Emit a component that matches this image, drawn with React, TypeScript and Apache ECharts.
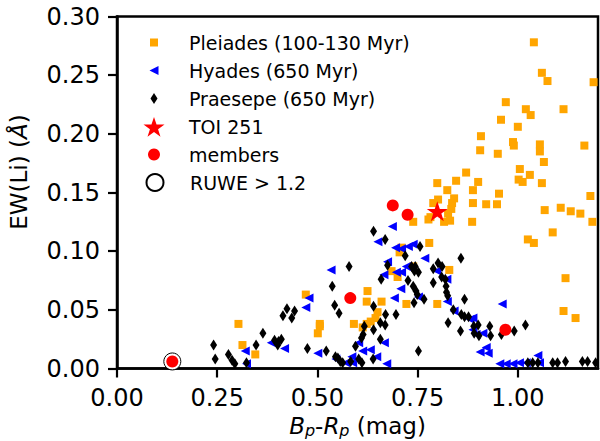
import React, { useEffect, useRef } from "react";
import * as echarts from "echarts";

// Gaia Bp-Rp colour (mag) vs EW(Li) (Angstrom)
const pleiades: number[][] = [
  [1.040, 0.278], [1.060, 0.252], [1.074, 0.245], [1.189, 0.244], [0.970, 0.227],
  [1.020, 0.221], [1.032, 0.216], [1.114, 0.221], [0.958, 0.212], [1.000, 0.206],
  [0.908, 0.198], [0.906, 0.186], [0.950, 0.183], [0.988, 0.193], [0.990, 0.190],
  [1.055, 0.191], [1.055, 0.185], [1.065, 0.176], [1.166, 0.190], [1.005, 0.170],
  [1.030, 0.165], [1.002, 0.161], [1.012, 0.159], [1.060, 0.158], [0.871, 0.167],
  [0.846, 0.160], [0.901, 0.159], [0.799, 0.158], [0.824, 0.152], [0.888, 0.152],
  [0.953, 0.149], [0.841, 0.145], [0.801, 0.144], [0.789, 0.141], [0.836, 0.141],
  [0.888, 0.141], [0.921, 0.140], [0.948, 0.140], [0.834, 0.136], [0.826, 0.132],
  [0.782, 0.129], [0.831, 0.126], [0.739, 0.125], [0.886, 0.125], [1.067, 0.135],
  [1.107, 0.137], [1.132, 0.134], [1.156, 0.132], [1.181, 0.147], [1.186, 0.125],
  [0.777, 0.127], [0.816, 0.125], [1.087, 0.116], [1.025, 0.110], [1.040, 0.107],
  [0.779, 0.107], [0.705, 0.099], [0.710, 0.103], [1.119, 0.077], [0.739, 0.087],
  [0.685, 0.083], [0.700, 0.078], [0.829, 0.084], [1.114, 0.049], [1.144, 0.043],
  [0.625, 0.066], [0.623, 0.057], [0.660, 0.057], [0.722, 0.055], [0.799, 0.055],
  [0.650, 0.048], [0.645, 0.043], [0.633, 0.040], [0.623, 0.038], [0.613, 0.035],
  [0.591, 0.038], [0.303, 0.038], [0.313, 0.020], [0.345, 0.012], [0.471, 0.063],
  [0.506, 0.038], [0.506, 0.036], [0.501, 0.030],
];

const hyades: number[][] = [
  [0.534, 0.084], [0.479, 0.060], [0.471, 0.052], [0.385, 0.022], [0.418, 0.017],
  [0.320, 0.015], [0.501, 0.013], [0.323, 0.004], [0.546, 0.008], [0.571, 0.005],
  [0.687, 0.121], [0.651, 0.108], [0.695, 0.103], [0.710, 0.102], [0.727, 0.104],
  [0.739, 0.106], [0.768, 0.094], [0.675, 0.091], [0.722, 0.087], [0.710, 0.082],
  [0.697, 0.082], [0.666, 0.080], [0.798, 0.083], [0.823, 0.076], [0.708, 0.068],
  [0.692, 0.060], [0.752, 0.061], [0.824, 0.057], [0.961, 0.055], [0.841, 0.049],
  [0.881, 0.042], [0.888, 0.043], [0.913, 0.030], [0.888, 0.033], [0.896, 0.029],
  [0.906, 0.014], [0.921, 0.018], [0.926, 0.013], [0.955, 0.004], [0.971, 0.004],
  [0.988, 0.004], [1.004, 0.005], [1.021, 0.005], [1.050, 0.011], [1.054, 0.005],
  [0.667, 0.022], [0.603, 0.022], [0.632, 0.016], [0.648, 0.010], [0.613, 0.015],
  [0.586, 0.010], [0.673, 0.004], [0.588, 0.005],
];

const praesepe: number[][] = [
  [0.241, 0.020], [0.245, 0.008], [0.278, 0.012], [0.287, 0.007], [0.294, 0.004],
  [0.323, 0.005], [0.347, 0.020], [0.364, 0.030], [0.393, 0.024], [0.403, 0.023],
  [0.401, 0.020], [0.410, 0.025], [0.414, 0.045], [0.424, 0.051], [0.436, 0.043],
  [0.443, 0.049], [0.475, 0.017], [0.522, 0.015], [0.537, 0.070], [0.543, 0.054],
  [0.554, 0.047], [0.579, 0.087], [0.545, 0.010], [0.551, 0.009], [0.563, 0.005],
  [0.583, 0.006], [0.595, 0.019], [0.640, 0.117], [0.669, 0.110], [0.756, 0.104],
  [0.659, 0.076], [0.675, 0.088], [0.719, 0.096], [0.735, 0.087], [0.744, 0.087],
  [0.742, 0.083], [0.752, 0.082], [0.726, 0.075], [0.739, 0.070], [0.746, 0.066],
  [0.749, 0.063], [0.766, 0.059], [0.741, 0.056], [0.789, 0.085], [0.801, 0.090],
  [0.811, 0.087], [0.789, 0.073], [0.810, 0.078], [0.819, 0.076], [0.821, 0.070],
  [0.822, 0.065], [0.825, 0.062], [0.858, 0.094], [0.867, 0.059], [0.839, 0.050],
  [0.859, 0.046], [0.867, 0.044], [0.877, 0.044], [0.826, 0.039], [0.857, 0.032],
  [0.890, 0.036], [0.901, 0.037], [0.891, 0.030], [0.903, 0.028], [0.930, 0.036],
  [0.932, 0.028], [0.959, 0.029], [0.991, 0.032], [1.019, 0.037], [0.640, 0.053],
  [0.670, 0.046], [0.696, 0.046], [0.657, 0.039], [0.669, 0.037], [0.617, 0.036],
  [0.640, 0.033], [0.614, 0.029], [0.610, 0.026], [0.657, 0.025], [0.752, 0.015],
  [0.639, 0.008], [0.603, 0.008], [0.611, 0.005], [0.557, 0.006], [1.025, 0.005],
  [1.037, 0.005], [1.050, 0.005], [1.087, 0.005], [1.099, 0.005], [1.119, 0.006],
  [1.161, 0.006], [1.174, 0.006], [1.194, 0.005],
];

const members: number[][] = [
  [0.138, 0.006], [0.582, 0.060], [0.688, 0.139], [0.725, 0.131], [0.969, 0.033],
];
const toi251: number[][] = [[0.799, 0.134]];
const ruwe: number[][] = [[0.138, 0.006]];

const seriesNames = [
  "Pleiades (100-130 Myr)",
  "Hyades (650 Myr)",
  "Praesepe (650 Myr)",
  "TOI 251",
  "members",
  "RUWE > 1.2",
];

const FONT = '"DejaVu Sans", "Noto Sans", sans-serif';
const STAR = "path://M50,0L61.8,35.1L98.9,35.1L68.9,56.7L80.2,91.9L50,70.2L19.8,91.9L31.1,56.7L1.1,35.1L38.2,35.1Z";
const LEFT_TRI = "path://M0,5L10,0L10,10Z";

export default function App() {
  const ref = useRef<HTMLDivElement>(null);
  useEffect(() => {
    if (!ref.current) return;
    const chart = echarts.init(ref.current, undefined, { renderer: "svg" });

    const legendLayout = [
      { w: 8, h: 8, cy: 43 },
      { w: 9, h: 9, cy: 71 },
      { w: 7, h: 11, cy: 99 },
      { w: 21, h: 20, cy: 127 },
      { w: 12, h: 12, cy: 155 },
      { w: 17, h: 17, cy: 183 },
    ];
    const legends = seriesNames.map((name, i) => {
      const it = legendLayout[i];
      return {
        data: [name],
        orient: "vertical",
        left: 154 - it.w / 2,
        top: it.cy - Math.max(it.h, 20) / 2,
        itemWidth: it.w,
        itemHeight: it.h,
        padding: 0,
        itemGap: 0,
        selectedMode: false,
        formatter: (n: string) => `{s| }{t|${n}}`,
        textStyle: {
          fontSize: 19,
          fontFamily: FONT,
          color: "#000",
          rich: {
            s: { width: 30 - it.w / 2, lineHeight: 20, fontSize: 19 },
            t: { fontSize: 19, fontFamily: FONT, color: "#000", lineHeight: 20 },
          },
        },
      };
    });

    const option: any = {
      animation: false,
      backgroundColor: "#fff",
      legend: legends,
      grid: {
        left: 117,
        right: 2,
        top: 16.5,
        bottom: 72.5,
        show: true,
        borderColor: "#000",
        borderWidth: 2.5,
        containLabel: false,
        outerBoundsMode: "none",
      },
      xAxis: {
        type: "value",
        min: 0,
        max: 1.2,
        interval: 0.25,
        name: "{i|B}{sub|p}{n|-}{i|R}{sub|p}{n| (mag)}",
        nameLocation: "middle",
        nameGap: 44,
        nameMoveOverlap: false,
        nameTextStyle: {
          rich: {
            i: { fontSize: 23, fontStyle: "italic", fontFamily: FONT, color: "#000", lineHeight: 26 },
            n: { fontSize: 23, fontFamily: FONT, color: "#000", lineHeight: 26 },
            sub: { fontSize: 16, fontStyle: "italic", fontFamily: FONT, color: "#000", lineHeight: 16, padding: [9, 0, 0, 0] },
          },
        },
        axisLine: { show: true, onZero: false, lineStyle: { color: "#000", width: 2.5 } },
        axisTick: { show: true, inside: false, length: 9, lineStyle: { color: "#000", width: 2.2 } },
        axisLabel: {
          formatter: (v: number) => v.toFixed(2),
          fontSize: 24,
          lineHeight: 20,
          fontFamily: FONT,
          color: "#000",
          margin: 19,
          showMaxLabel: false,
        },
        splitLine: { show: false },
      },
      yAxis: {
        type: "value",
        min: 0,
        max: 0.3,
        interval: 0.05,
        name: "{n|EW(Li) (}{i|Å}{n|)}",
        nameLocation: "middle",
        nameGap: 87,
        nameRotate: 90,
        nameMoveOverlap: false,
        nameTextStyle: {
          padding: [0, 0, 0, 41],
          rich: {
            n: { fontSize: 23, fontFamily: FONT, color: "#000" },
            i: { fontSize: 23, fontStyle: "italic", fontFamily: FONT, color: "#000" },
          },
        },
        axisLine: { show: true, onZero: false, lineStyle: { color: "#000", width: 2.5 } },
        axisTick: { show: true, inside: false, length: 9, lineStyle: { color: "#000", width: 2.2 } },
        axisLabel: {
          formatter: (v: number) => v.toFixed(2),
          fontSize: 24,
          fontFamily: FONT,
          color: "#000",
          margin: 17,
        },
        splitLine: { show: false },
      },
      series: [
        {
          name: seriesNames[0],
          type: "scatter",
          data: pleiades,
          symbol: "rect",
          symbolSize: 8,
          itemStyle: { color: "#FFA500", opacity: 1 },
          z: 2,
        },
        {
          name: seriesNames[1],
          type: "scatter",
          data: hyades,
          symbol: LEFT_TRI,
          symbolSize: [9, 9],
          itemStyle: { color: "#0000FF", opacity: 1 },
          z: 3,
        },
        {
          name: seriesNames[2],
          type: "scatter",
          data: praesepe,
          symbol: "diamond",
          symbolSize: [7, 11],
          itemStyle: { color: "#000", opacity: 1 },
          z: 4,
        },
        {
          name: seriesNames[3],
          type: "scatter",
          data: toi251,
          symbol: STAR,
          symbolSize: [21, 20],
          itemStyle: { color: "#FF0000", opacity: 1 },
          z: 7,
        },
        {
          name: seriesNames[4],
          type: "scatter",
          data: members,
          symbol: "circle",
          symbolSize: 12,
          itemStyle: { color: "#FF0000", opacity: 1 },
          z: 6,
        },
        {
          name: seriesNames[5],
          type: "scatter",
          data: ruwe,
          symbol: "circle",
          symbolSize: 17,
          itemStyle: { color: "#fff", borderColor: "#000", borderWidth: 1, opacity: 1 },
          z: 5,
        },
      ],
    };
    chart.setOption(option);
    return () => chart.dispose();
  }, []);

  return (
    <div
      ref={ref}
      style={{ position: "absolute", left: 0, top: 0, width: 600, height: 441 }}
    />
  );
}
